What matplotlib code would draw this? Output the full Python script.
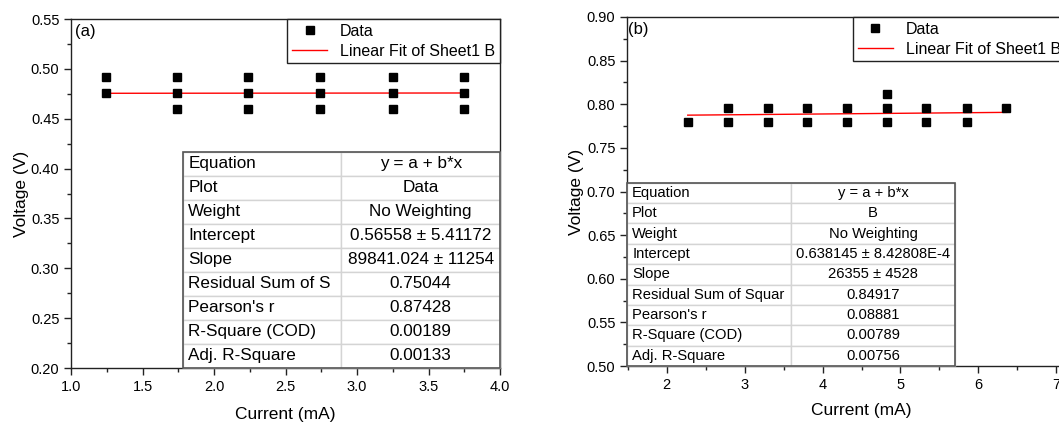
import numpy as np
import matplotlib
matplotlib.use("Agg")
import matplotlib.pyplot as plt
from matplotlib.ticker import AutoMinorLocator, MultipleLocator
from matplotlib.patches import Rectangle

plt.rcParams['font.family'] = ['Liberation Sans', 'DejaVu Sans']

# panel (a) data
a_x = [1.24, 1.24,
       1.74, 1.74, 1.74,
       2.24, 2.24, 2.24,
       2.74, 2.74, 2.74,
       3.25, 3.25, 3.25,
       3.75, 3.75, 3.75]
a_y = [0.492, 0.476,
       0.492, 0.476, 0.460,
       0.492, 0.476, 0.460,
       0.492, 0.476, 0.460,
       0.492, 0.476, 0.460,
       0.492, 0.476, 0.460]
a_fit_x = [1.24, 3.75]
a_fit_y = [0.4755, 0.4758]

# panel (b) data
b_x = [2.27,
       2.79, 2.79,
       3.30, 3.30,
       3.80, 3.80,
       4.31, 4.31,
       4.83, 4.83, 4.83,
       5.33, 5.33,
       5.85, 5.85,
       6.36]
b_y = [0.780,
       0.796, 0.780,
       0.796, 0.780,
       0.796, 0.780,
       0.796, 0.780,
       0.812, 0.796, 0.780,
       0.796, 0.780,
       0.796, 0.780,
       0.796]
b_fit_x = [2.27, 6.36]
b_fit_y = [0.7875, 0.7907]

table_rows = ["Equation", "Plot", "Weight", "Intercept", "Slope",
              "Residual Sum of S", "Pearson's r", "R-Square (COD)",
              "Adj. R-Square"]
a_table_vals = ["y = a + b*x", "Data", "No Weighting", "0.56558 ± 5.41172",
                "89841.024 ± 11254", "0.75044", "0.87428", "0.00189",
                "0.00133"]
b_table_rows = table_rows[:5] + ["Residual Sum of Squar"] + table_rows[6:]
b_table_vals = ["y = a + b*x", "B", "No Weighting", "0.638145 ± 8.42808E-4",
                "26355 ± 4528", "0.84917", "0.08881", "0.00789", "0.00756"]

W, H = 1059, 423
fig = plt.figure(figsize=(W / 100, H / 100), dpi=100)

ax_a = fig.add_axes([71.3 / W, (H - 368) / H, 428.7 / W, 349 / H])
ax_b = fig.add_axes([627.3 / W, (H - 366) / H, 468 / W, 349 / H])


def style_axes(ax):
    for sp in ax.spines.values():
        sp.set_linewidth(1.0)
        sp.set_color('#222222')
    ax.tick_params(which='both', direction='out', labelsize=10.5,
                   color='#222222')
    ax.tick_params(which='major', length=5, width=1.0)
    ax.tick_params(which='minor', length=3, width=1.0)
    ax.xaxis.set_minor_locator(AutoMinorLocator(2))
    ax.yaxis.set_minor_locator(AutoMinorLocator(2))


def add_table(ax, rows, vals, bbox, fontsize, pad):
    cell_text = [[r, v] for r, v in zip(rows, vals)]
    tab = ax.table(cellText=cell_text, cellLoc='center', bbox=bbox,
                   colWidths=[0.5, 0.5], zorder=5)
    tab.auto_set_font_size(False)
    tab.set_fontsize(fontsize)
    for (r, c), cell in tab.get_celld().items():
        cell.set_edgecolor('#d4d4d4')
        cell.set_linewidth(1.0)
        if c == 0:
            cell._loc = 'left'
            cell.PAD = pad
            cell.get_text().set_horizontalalignment('left')
    ax.add_patch(Rectangle((bbox[0], bbox[1]), bbox[2], bbox[3],
                           transform=ax.transAxes, fill=False,
                           edgecolor='#555555', linewidth=1.2, zorder=6,
                           clip_on=False))
    return tab


# ---- panel (a)
ax = ax_a
ax.plot(a_x, a_y, 's', color='black', markersize=6, label='Data', zorder=3)
ax.plot(a_fit_x, a_fit_y, '-', color='red', linewidth=1.0,
        label='Linear Fit of Sheet1 B', zorder=2)
ax.set_xlim(1.0, 4.0)
ax.set_ylim(0.20, 0.55)
ax.xaxis.set_major_locator(MultipleLocator(0.5))
ax.yaxis.set_major_locator(MultipleLocator(0.05))
ax.xaxis.set_major_formatter(plt.FormatStrFormatter('%.1f'))
ax.yaxis.set_major_formatter(plt.FormatStrFormatter('%.2f'))
style_axes(ax)
ax.set_xlabel("Current (mA)", fontsize=12.5, labelpad=9.5)
ax.set_ylabel("Voltage (V)", fontsize=12.5, labelpad=1)
ax.text(0.008, 0.985, "(a)", transform=ax.transAxes, fontsize=12,
        ha='left', va='top')
leg = ax.legend(loc='upper right', bbox_to_anchor=(1.0, 1.0),
                borderaxespad=0, fontsize=11.5, fancybox=False,
                framealpha=1, edgecolor='#222222', handlelength=2.2,
                borderpad=0.3, labelspacing=0.3)
leg.get_frame().set_linewidth(1.0)
add_table(ax, table_rows, a_table_vals, [0.26, 0.0, 0.74, 0.619], 12.3,
          0.035)

# ---- panel (b)
ax = ax_b
ax.plot(b_x, b_y, 's', color='black', markersize=6, label='Data', zorder=3)
ax.plot(b_fit_x, b_fit_y, '-', color='red', linewidth=1.0,
        label='Linear Fit of Sheet1 B', zorder=2)
ax.set_xlim(1.494, 7.5)
ax.set_ylim(0.50, 0.90)
ax.xaxis.set_major_locator(MultipleLocator(1))
ax.yaxis.set_major_locator(MultipleLocator(0.05))
ax.yaxis.set_major_formatter(plt.FormatStrFormatter('%.2f'))
style_axes(ax)
ax.set_xlabel("Current (mA)", fontsize=12.5, labelpad=8)
ax.set_ylabel("Voltage (V)", fontsize=12.5, labelpad=2)
ax.text(0.002, 0.985, "(b)", transform=ax.transAxes, fontsize=12,
        ha='left', va='top')
leg = ax.legend(loc='upper left', bbox_to_anchor=(0.482, 1.0),
                borderaxespad=0, fontsize=11.5, fancybox=False,
                framealpha=1, edgecolor='#222222', handlelength=2.2,
                borderpad=0.3, labelspacing=0.3)
leg.get_frame().set_linewidth(1.0)
add_table(ax, b_table_rows, b_table_vals, [0.0, 0.0, 0.70, 0.525], 10.6,
          0.03)

fig.savefig("out.png", dpi=100)
